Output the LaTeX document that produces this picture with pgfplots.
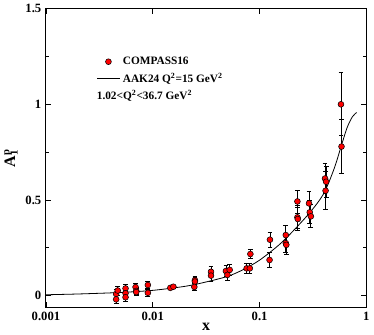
\documentclass[border=0pt]{standalone}
\usepackage{fontspec}
\setmainfont{Liberation Serif}
\usepackage{pgfplots}
\pgfplotsset{compat=1.18}

% COMPASS16 proton data: x, A1p, error
\pgfplotstableread{
x y e
0.00454 0.008 0.022
0.00470 0.026 0.024
0.00454 -0.020 0.022
0.00556 0.037 0.022
0.00556 0.012 0.020
0.00556 -0.009 0.020
0.00690 0.044 0.020
0.00700 0.024 0.018
0.00700 0.018 0.018
0.00900 0.055 0.020
0.00900 0.014 0.020
0.01460 0.040 0.008
0.01560 0.046 0.008
0.02480 0.080 0.020
0.02480 0.073 0.020
0.02450 0.045 0.020
0.03510 0.124 0.030
0.03510 0.104 0.030
0.04840 0.128 0.030
0.05250 0.134 0.030
0.05000 0.108 0.030
0.07570 0.142 0.025
0.08100 0.142 0.025
0.08200 0.217 0.025
0.12500 0.292 0.040
0.12400 0.186 0.040
0.17600 0.316 0.050
0.17600 0.274 0.050
0.17800 0.265 0.050
0.22600 0.492 0.060
0.22600 0.409 0.060
0.22800 0.400 0.060
0.29000 0.482 0.060
0.29500 0.435 0.060
0.30200 0.414 0.060
0.41000 0.612 0.080
0.42000 0.595 0.080
0.41500 0.548 0.100
0.57800 1.000 0.165
0.58500 0.779 0.140
}\compass

\begin{document}
\begin{tikzpicture}
\begin{axis}[
  scale only axis,
  width=240.75pt, height=224.25pt,
  xmode=log, log basis x=10,
  xmin=0.001, xmax=1,
  ymin=-0.061, ymax=1.5,
  xtick={0.001,0.01,0.1,1},
  xticklabels={0.001,0.01,0.1,1},
  ytick={0,0.5,1,1.5},
  yticklabels={0,0.5,1,1.5},
  minor ytick={0.25,0.75,1.25},
  tick align=inside,
  major tick length=4pt, minor tick length=2.2pt,
  every tick/.style={black, line width=0.5pt},
  axis line style={line width=0.7pt},
  tick label style={font=\fontsize{9.5}{10}\selectfont\bfseries},
  xlabel={\textbf{x}},
  ylabel={\textbf{A\rlap{\textsubscript{1}}\textsuperscript{p}}},
  xlabel style={font=\fontsize{12}{13}\selectfont, yshift=5pt},
  ylabel style={font=\fontsize{12}{13}\selectfont, yshift=-1pt},
  legend style={draw=none, fill=none, at={(rel axis cs:0.145,0.857)}, anchor=north west,
    font=\fontsize{8.5}{9}\selectfont\bfseries, row sep=1pt},
  legend cell align=left,
]
\addplot[only marks, mark=*, mark size=2.2pt,
  mark options={fill=red, draw=black, line width=0.4pt},
  error bars/.cd, y dir=both, y explicit,
  error bar style={black, line width=0.6pt},
  error mark options={rotate=90, mark size=1.8pt, line width=0.6pt}]
  table[x=x, y=y, y error=e] {\compass};
\addlegendentry{COMPASS16}
\addplot[black, line width=0.6pt, smooth] coordinates {
(0.001,0.004)(0.002,0.008)(0.005,0.016)(0.01,0.027)(0.02,0.048)
(0.03,0.068)(0.05,0.100)(0.07,0.135)(0.1,0.185)(0.15,0.262)
(0.2,0.330)(0.3,0.438)(0.4,0.535)(0.5,0.665)(0.58,0.780)
(0.66,0.878)(0.74,0.935)(0.81,0.957)};
\addlegendentry{AAK24 Q\textsuperscript{2}=15 GeV\textsuperscript{2}}
\node[anchor=west, font=\fontsize{8.5}{9}\selectfont\bfseries, inner sep=0pt]
  at (rel axis cs:0.158,0.707) {1.02<Q\textsuperscript{2}<36.7 GeV\textsuperscript{2}};
\end{axis}
\end{tikzpicture}
\end{document}
